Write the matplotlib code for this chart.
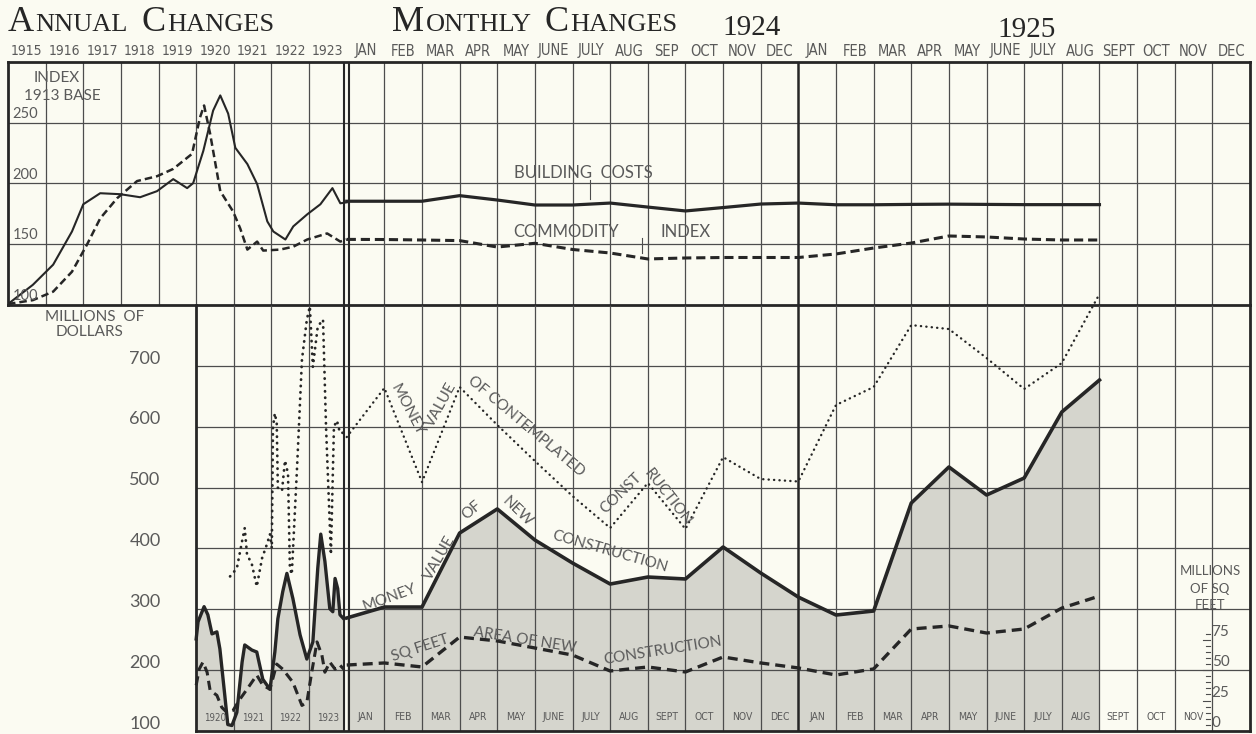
import matplotlib.pyplot as plt
from matplotlib import font_manager
from matplotlib.transforms import blended_transform_factory
import numpy as np

W, H = 1256, 734
PAPER = '#fbfbf2'
INK = '#262626'
GRID = '#4d4d4d'
LETTER = '#5a5a5a'
SHADE = '#d5d5cd'

installed = {f.name for f in font_manager.fontManager.ttflist}
NARROW = ['Liberation Sans Narrow' if 'Liberation Sans Narrow' in installed else 'DejaVu Sans']
LABEL_FONT = ['Lato' if 'Lato' in installed else 'DejaVu Sans']
TITLE_FONT = ['Liberation Serif', 'DejaVu Serif']

annual_years = ['1915', '1916', '1917', '1918', '1919', '1920', '1921', '1922', '1923']
months_1924 = ['JAN', 'FEB', 'MAR', 'APR', 'MAY', 'JUNE', 'JULY', 'AUG', 'SEP', 'OCT', 'NOV', 'DEC']
months_1925 = ['JAN', 'FEB', 'MAR', 'APR', 'MAY', 'JUNE', 'JULY', 'AUG', 'SEPT', 'OCT', 'NOV', 'DEC']
bottom_months = ['JAN', 'FEB', 'MAR', 'APR', 'MAY', 'JUNE', 'JULY', 'AUG', 'SEPT', 'OCT', 'NOV', 'DEC',
                 'JAN', 'FEB', 'MAR', 'APR', 'MAY', 'JUNE', 'JULY', 'AUG', 'SEPT', 'OCT', 'NOV']
bottom_years = ['1920', '1921', '1922', '1923']

# index numbers (1913 = 100), time in years after Jan 1915
cost_t = [0, 0.66, 1.2, 1.7, 2.0, 2.45, 2.98, 3.51, 3.96, 4.39, 4.76, 4.92, 5.19, 5.45,
          5.64, 5.85, 6.04, 6.36, 6.62, 6.89, 7.05, 7.37, 7.58, 7.95, 8.3, 8.62, 8.83, 9.0]
cost_index = [100.8, 116.6, 133.2, 160.5, 182.9, 192, 191.2, 188.7, 193.7, 203.6, 196.2, 200.3, 226.9, 260,
              272.5, 257.5, 229.4, 216, 199.5, 168.8, 160.5, 153.9, 164.7, 174.6, 182.9, 196.2, 183.7, 184.5]
commodity_t = [0, 0.66, 1.2, 1.7, 2.1, 2.45, 2.9, 3.43, 3.96, 4.39, 4.89, 5.1, 5.21, 5.37, 5.64,
               5.98, 6.17, 6.36, 6.62, 6.78, 7.23, 7.58, 7.95, 8.48, 8.83, 9.0]
commodity_annual = [100.8, 104, 111, 127.4, 149.8, 171.3, 187.9, 202, 206, 212, 224.4, 254.2, 264.2, 241, 193.7,
                    177, 163, 145.6, 152.2, 144.8, 145.6, 148, 153.9, 158.9, 152.2, 154]

# month-end readings, Dec 1923 through Aug 1925
building_costs = [185.4, 185.4, 185.4, 190, 186.4, 182.3, 182.3, 183.9, 180.6, 177.4, 180.2, 183.1, 183.9,
                  182.5, 182.5, 182.8, 183, 182.8, 182.6, 182.6, 182.6]
commodity_index = [154, 153.9, 153.5, 153, 147.7, 150.8, 145.7, 142.8, 137.9, 138.7, 139.1, 139.1, 139.1,
                   142, 146.9, 151, 156.8, 156, 154.3, 153.5, 153.5]
contemplated = [583, 663.6, 509, 665.2, 602.8, 543.6, 486, 433.6, 507.5, 432, 550, 514, 510,
                635.7, 665.2, 767, 760.5, 712.9, 662, 704.7, 818]
new_value = [285.7, 303.7, 303.7, 425.3, 464.8, 413.8, 376, 341.5, 353, 349.8, 402.3, 359.6, 320,
             290.6, 297.2, 474.6, 533.8, 487.8, 515.7, 624.2, 676.7]
new_area = [54.2, 55.9, 52.6, 77.2, 74, 68.2, 62.4, 49.3, 52.6, 48.5, 60.8, 55.9, 51.8,
            46, 51, 83.8, 86.3, 80.5, 83.8, 101, 110.9]

# 1920-1923 construction curves, years after Jan 1915
value_t = [5.0, 5.05, 5.21, 5.31, 5.42, 5.55, 5.63, 5.76, 5.84, 5.95, 6.08, 6.22, 6.29, 6.48, 6.61, 6.77, 6.96,
           7.09, 7.17, 7.3, 7.41, 7.57, 7.76, 7.94, 8.1, 8.23, 8.31, 8.42, 8.55, 8.63, 8.69, 8.76, 8.82, 8.92]
value_early = [251.3, 279.5, 304.3, 291, 259.6, 262.9, 234.8, 158.6, 110.6, 109, 130.5, 213.2, 241.4, 233,
               229.8, 185, 168.5, 229.8, 284.4, 329, 359, 317.5, 258, 218.2, 246.4, 367.2, 423.5, 378.8,
               301, 296, 350.7, 334, 291, 284.4]
area_t = [5.0, 5.08, 5.18, 5.29, 5.37, 5.55, 5.68, 5.82, 5.98, 6.16, 6.35, 6.61, 6.77, 6.96, 7.14, 7.3, 7.57,
          7.81, 7.94, 8.07, 8.21, 8.34, 8.42, 8.55, 8.69, 8.82, 8.92]
area_early = [37.6, 50.8, 56.6, 48.3, 33.4, 29.3, 19.4, 15.2, 16.9, 26, 34.3, 45.9, 37.6, 34.3, 55, 50.8, 40,
              21, 23.5, 48.3, 73.2, 62.4, 48.3, 56.6, 50.8, 54.1, 50.8]
planned_t = [5.9, 6.08, 6.22, 6.29, 6.35, 6.48, 6.61, 6.75, 6.88, 6.96, 7.01, 7.04, 7.09, 7.14, 7.17, 7.28,
             7.36, 7.44, 7.49, 7.54, 7.68, 7.81, 7.94, 8.02, 8.1, 8.23, 8.37, 8.45, 8.58, 8.66, 8.74, 8.82, 8.92]
planned_early = [354, 367.2, 412, 433.4, 390.4, 373.8, 337.4, 383.8, 407, 423.5, 400.3, 599, 622, 605.6,
                 499.7, 494.7, 544.4, 522.8, 367.2, 357.3, 532.8, 710, 776, 797.7, 698.3, 764.6, 776,
                 600, 390, 600, 610, 590, 590]

month_x = 9 + np.arange(len(building_costs))


def sq_ft_to_dollars(v):
    return 100 + 2 * np.asarray(v)


fig = plt.figure(figsize=(W / 100, H / 100), dpi=100, facecolor=PAPER)
left, right, top_y, mid_y, bot_y = 8, 1250, 62, 305, 731
ax_top = fig.add_axes([left / W, 1 - mid_y / H, (right - left) / W, (mid_y - top_y) / H])
ax_bot = fig.add_axes([left / W, 1 - bot_y / H, (right - left) / W, (bot_y - mid_y) / H])
for ax in (ax_top, ax_bot):
    ax.set_facecolor('none')
    ax.set_xlim(0, 33)
    ax.set_xticks([])
    ax.set_yticks([])
ax_top.set_ylim(100, 300)
ax_bot.set_ylim(100, 800)

for sp in ax_top.spines.values():
    sp.set_linewidth(2)
    sp.set_color(INK)
for name, sp in ax_bot.spines.items():
    sp.set_visible(name == 'right')
    sp.set_linewidth(2)
    sp.set_color(INK)

# grid
ax_top.vlines([u for u in range(1, 33) if u not in (9, 21)], 100, 300, color=GRID, lw=0.9)
ax_top.hlines([150, 200, 250], 0, 33, color=GRID, lw=0.9)
ax_bot.vlines([u for u in range(6, 33) if u not in (9, 21)], 100, 800, color=GRID, lw=0.9)
ax_bot.hlines(range(200, 800, 100), 5, 33, color=GRID, lw=0.9)
for ax, lo, hi in ((ax_top, 100, 300), (ax_bot, 100, 800)):
    ax.vlines([8.93, 9.07], lo, hi, color=INK, lw=1.5)
    ax.vlines(21, lo, hi, color=INK, lw=1.8)
ax_bot.plot([5, 5], [100, 800], color=INK, lw=2, clip_on=False)
ax_bot.plot([5, 33], [100, 100], color=INK, lw=2, clip_on=False)

# shaded area under the money value of new construction
ax_bot.fill_between(value_t, 100, value_early, color=SHADE, lw=0, zorder=1)
ax_bot.fill_between(month_x, 100, new_value, color=SHADE, lw=0, zorder=1)

# index curves
ax_top.plot(cost_t, cost_index, color=INK, lw=1.5, zorder=3)
ax_top.plot(commodity_t, commodity_annual, color=INK, lw=1.8, ls=(0, (3, 1.6)), zorder=3)
ax_top.plot(month_x, building_costs, color=INK, lw=2.3, zorder=3)
ax_top.plot(month_x, commodity_index, color=INK, lw=2.2, ls=(0, (3, 1.6)), zorder=3)

# construction curves
dots = dict(color=INK, ls=(0, (0.1, 2.2)), dash_capstyle='round', zorder=3, clip_on=False)
ax_bot.plot(planned_t, planned_early, lw=2.0, **dots)
ax_bot.plot(month_x, contemplated, lw=1.7, **dots)
ax_bot.plot(value_t, value_early, color=INK, lw=2.4, zorder=3)
ax_bot.plot(month_x, new_value, color=INK, lw=2.6, zorder=3)
ax_bot.plot(area_t, sq_ft_to_dollars(area_early), color=INK, lw=2.2, ls=(0, (3, 1.8)), zorder=3)
ax_bot.plot(month_x, sq_ft_to_dollars(new_area), color=INK, lw=2.4, ls=(0, (3, 1.8)), zorder=3)

# square feet scale in the last column
scale_vals = np.arange(0, 85, 5)
for s in scale_vals:
    ax_bot.plot([31.74 if s % 25 == 0 else 31.82, 31.95], [sq_ft_to_dollars(s)] * 2,
                color=GRID, lw=0.8, zorder=3)
for s in (0, 25, 50, 75):
    ax_bot.text(31.98, sq_ft_to_dollars(s) + 13, str(s), fontsize=11, color=LETTER,
                family=LABEL_FONT, ha='left', va='center')
for line, ypx in (('MILLIONS', 571), ('OF SQ', 589), ('FEET', 605)):
    fig.text(1210 / W, 1 - ypx / H, line, fontsize=9.5, color=LETTER, family=LABEL_FONT,
             ha='center', va='center')

# headings
renderer = fig.canvas.get_renderer()


def small_caps(x0, base, words, big=26, small=19):
    x = x0
    for word in words:
        for chunk, size in ((word[0], big), (word[1:], small)):
            t = fig.text(x / W, 1 - base / H, chunk, fontsize=size, family=TITLE_FONT,
                         color=INK, va='baseline')
            x = t.get_window_extent(renderer).x1 + 1.5
        x += big * 0.45


small_caps(8, 31, ['ANNUAL', 'CHANGES'])
small_caps(392, 31, ['MONTHLY', 'CHANGES'])
fig.text(752 / W, 1 - 35 / H, '1924', fontsize=21, family=TITLE_FONT, color=INK, ha='center', va='baseline')
fig.text(1027 / W, 1 - 37 / H, '1925', fontsize=21, family=TITLE_FONT, color=INK, ha='center', va='baseline')

row = blended_transform_factory(ax_top.transData, fig.transFigure)
narrow = dict(family=NARROW, fontstretch='condensed', color=LETTER, ha='center', va='center')
for i, yr in enumerate(annual_years):
    fig.text(i + 0.5, 1 - 51 / H, yr, transform=row, fontsize=10, **narrow)
for i, m in enumerate(months_1924 + months_1925):
    fig.text(9 + i + 0.5, 1 - 51 / H, m, transform=row, fontsize=10.5, **narrow)
for i, m in enumerate(bottom_months):
    fig.text(9 + i + 0.5, 1 - 717 / H, m, transform=row, fontsize=7.5, **narrow)
for i, yr in enumerate(bottom_years):
    fig.text(5 + i + 0.5, 1 - 718 / H, yr, transform=row, fontsize=7, **narrow)

# index axis labels
fig.text(57 / W, 1 - 78 / H, 'INDEX', fontsize=11, family=LABEL_FONT, color=LETTER, ha='center', va='center')
fig.text(62 / W, 1 - 96 / H, '1913 BASE', fontsize=11, family=LABEL_FONT, color=LETTER, ha='center', va='center')
for v in (100, 150, 200, 250):
    ax_top.text(0.12, v + 1.5, str(v), fontsize=10.5, family=LABEL_FONT, color=LETTER, ha='left', va='bottom')

# dollar axis labels
fig.text(95 / W, 1 - 317 / H, 'MILLIONS  OF', fontsize=11, family=LABEL_FONT, color=LETTER, ha='center', va='center')
fig.text(90 / W, 1 - 332 / H, 'DOLLARS', fontsize=11, family=LABEL_FONT, color=LETTER, ha='center', va='center')
for v in range(100, 800, 100):
    ax_bot.text(3.64, v + 12, str(v), fontsize=13, family=LABEL_FONT, color=LETTER, ha='center', va='center')

# series names
ax_top.text(15.3, 208.6, 'BUILDING  COSTS', fontsize=12, family=LABEL_FONT, color=LETTER, ha='center', va='center')
ax_top.text(14.82, 160, 'COMMODITY', fontsize=12, family=LABEL_FONT, color=LETTER, ha='center', va='center')
ax_top.text(18.0, 160, 'INDEX', fontsize=12, family=LABEL_FONT, color=LETTER, ha='center', va='center')
ax_top.plot([15.46, 15.46], [202.9, 187.5], color=GRID, lw=0.8)
ax_top.plot([16.84, 16.84], [155.1, 142.5], color=GRID, lw=0.8)

curve_names = [
    ('MONEY', 407, 410, -62), ('VALUE', 441, 405, 61), ('OF CONTEMPLATED', 526, 426, -40),
    ('CONST', 621, 493, 44), ('RUCTION', 668, 497, -52),
    ('MONEY', 390, 598, 20), ('VALUE', 440, 558, 60), ('OF', 472, 510, 40), ('NEW', 517, 512, -44),
    ('CONSTRUCTION', 610, 552, -16),
    ('SQ FEET', 420, 648, 18), ('AREA OF NEW', 525, 640, -9), ('CONSTRUCTION', 663, 651, 9),
]
for text, xp, yp, rot in curve_names:
    fig.text(xp / W, 1 - yp / H, text, fontsize=11, family=LABEL_FONT, color=LETTER,
             ha='center', va='center', rotation=rot, rotation_mode='anchor', zorder=5)

fig.savefig('out.png', dpi=100, facecolor=PAPER)
